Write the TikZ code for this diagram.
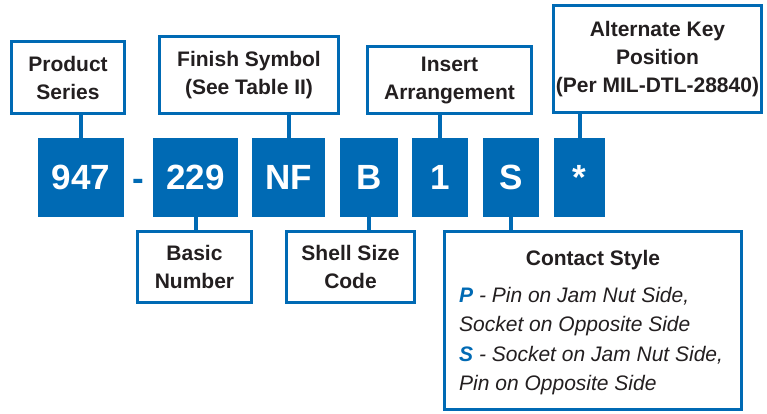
\documentclass[tikz,border=0pt]{standalone}
\usepackage{fontspec}
\setmainfont{Liberation Sans}
\usepackage{tikz}
\usetikzlibrary{positioning}
\definecolor{codeblue}{RGB}{0,106,180}
\definecolor{labeltext}{RGB}{35,31,32}

\begin{document}
\begin{tikzpicture}[x=1pt,y=1pt,yscale=-1,
  labelbox/.style={draw=codeblue, line width=3pt, fill=white, inner sep=0pt, align=center,
    text=labeltext, font=\fontsize{21}{28}\selectfont\bfseries},
  codebox/.style={fill=codeblue, inner sep=0pt, minimum height=79pt, text=white,
    font=\fontsize{35}{40}\selectfont\bfseries},
  link/.style={draw=codeblue, line width=4pt}]
\useasboundingbox (0,0) rectangle (767,413);

% upper label boxes
\node[labelbox, minimum width=113pt, minimum height=72pt] (series) at (68,77.5) {Product\\Series};
\node[labelbox, minimum width=179pt, minimum height=77pt] (finish) at (249,75) {Finish Symbol\\(See Table II)};
\node[labelbox, minimum width=164pt, minimum height=67pt] (insert) at (449.5,80) {Insert\\Arrangement};
\node[labelbox, minimum width=208pt, minimum height=107pt] (altkey) at (657.5,59) {Alternate Key\\Position\\(Per MIL-DTL-28840)};

% part number blocks
\node[codebox, minimum width=86pt] (n947) at (81,177.5) {947};
\node[text=codeblue, font=\fontsize{35}{40}\selectfont\bfseries] (dash) at (138,185) {-};
\node[codebox, minimum width=85pt] (n229) at (195.5,177.5) {229};
\node[codebox, minimum width=73pt] (nNF) at (288.5,177.5) {NF};
\node[codebox, minimum width=58pt] (nB) at (369,177.5) {B};
\node[codebox, minimum width=56pt] (n1) at (440,177.5) {1};
\node[codebox, minimum width=56pt] (nS) at (511,177.5) {S};
\node[codebox, minimum width=51pt] (nstar) at (579.5,177.5) {*};

% lower label boxes
\node[labelbox, minimum width=114pt, minimum height=71pt] (basic) at (194.5,267) {Basic\\Number};
\node[labelbox, minimum width=128pt, minimum height=71pt] (shell) at (350.5,267) {Shell Size\\Code};
\node[labelbox, minimum width=297pt, minimum height=178pt] (contact) at (593,320.5) {};
\node[text=labeltext, font=\fontsize{21}{28}\selectfont\bfseries] (cstitle) at (593,260) {Contact Style};
\node[anchor=west, align=left, inner sep=0pt, text=labeltext, font=\fontsize{21}{29.3}\selectfont\itshape] (csbody) at (459,341)
  {{\bfseries\color{codeblue}P} - Pin on Jam Nut Side,\\Socket on Opposite Side\\
   {\bfseries\color{codeblue}S} - Socket on Jam Nut Side,\\Pin on Opposite Side};

% connectors
\draw[link] (n947.north) -- (n947.north |- series.south);
\draw[link] (nNF.north) -- (nNF.north |- finish.south);
\draw[link] (n1.north) -- (n1.north |- insert.south);
\draw[link] (nstar.north) -- (nstar.north |- altkey.south);
\draw[link] (n229.south) -- (n229.south |- basic.north);
\draw[link] (nB.south) -- (nB.south |- shell.north);
\draw[link] (nS.south) -- (nS.south |- contact.north);

\end{tikzpicture}
\end{document}
